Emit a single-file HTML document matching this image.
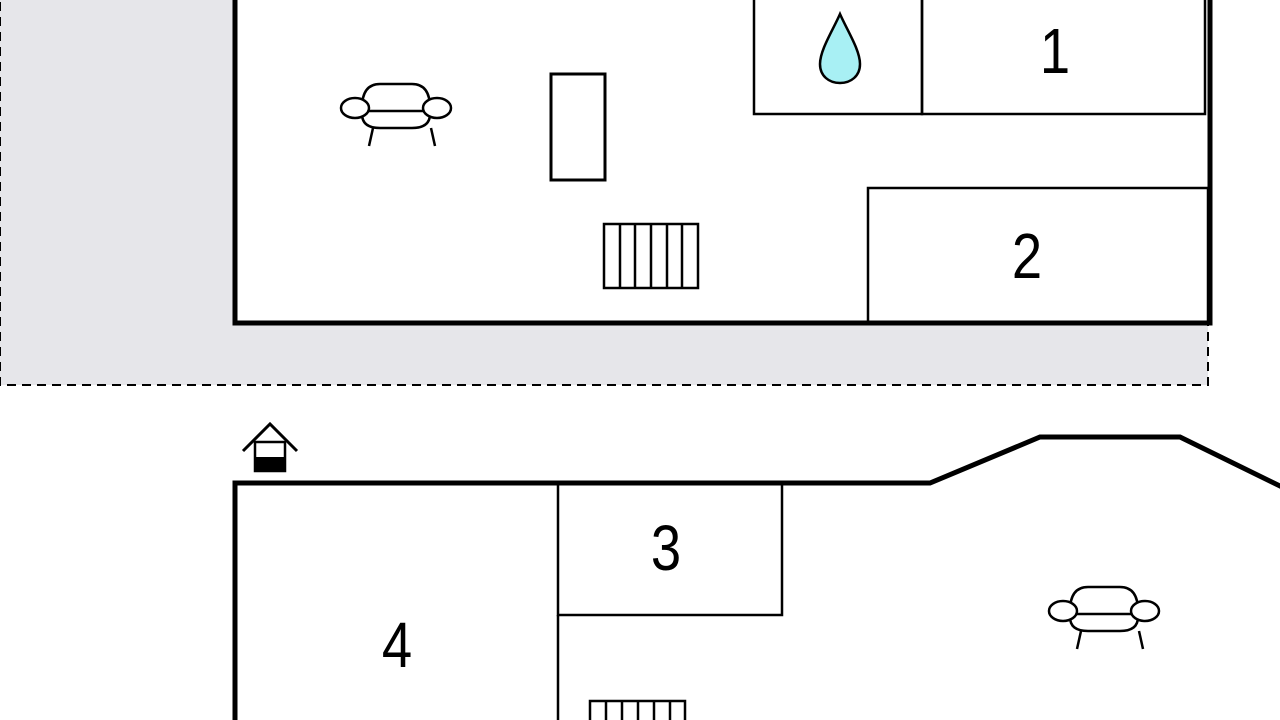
<!DOCTYPE html>
<html><head><meta charset="utf-8"><style>body{margin:0;background:#fff}svg{display:block}text{font-family:"Liberation Sans",sans-serif;font-size:64px;fill:#000;text-anchor:middle}</style></head><body>
<svg width="1280" height="720" viewBox="0 0 1280 720" xmlns="http://www.w3.org/2000/svg">
<defs>
<g id="sofa" fill="none" stroke="#000" stroke-width="2.5">
<path d="M22,24 Q22,0 40,0 H72 Q90,0 90,24"/>
<path d="M22,30 Q22,44 40,44 H72 Q90,44 90,30"/>
<line x1="22" y1="27" x2="90" y2="27"/>
<ellipse cx="15" cy="24" rx="14" ry="10" fill="#fff"/>
<ellipse cx="97" cy="24" rx="14" ry="10" fill="#fff"/>
<line x1="33" y1="44" x2="29" y2="62"/><line x1="91" y1="44" x2="95" y2="62"/>
</g>
</defs>
<rect x="0" y="-5" width="1208" height="390" fill="#e6e6ea" stroke="#000" stroke-width="2" stroke-dasharray="9,6"/>
<rect x="235" y="-10" width="975" height="333" fill="#fff" stroke="#000" stroke-width="5"/>
<rect x="754" y="-10" width="168" height="124" fill="none" stroke="#000" stroke-width="2.5"/>
<rect x="922" y="-10" width="283" height="124" fill="none" stroke="#000" stroke-width="2.5"/>
<rect x="868" y="188" width="340" height="135" fill="none" stroke="#000" stroke-width="2.5"/>
<path d="M840,14 C833,30 820,50 820,64 C820,76 829,83 840,83 C851,83 860,76 860,64 C860,50 847,30 840,14 Z" fill="#a8f0f4" stroke="#000" stroke-width="2.5"/>
<text transform="translate(1055,73) scale(0.85,1)">1</text>
<text transform="translate(1027,278) scale(0.85,1)">2</text>
<use href="#sofa" x="340" y="84"/>
<rect x="551" y="74" width="54" height="106" fill="none" stroke="#000" stroke-width="3"/>
<g fill="none" stroke="#000" stroke-width="2.5"><rect x="604" y="224" width="94" height="64"/>
<line x1="620" y1="224" x2="620" y2="288"/><line x1="635" y1="224" x2="635" y2="288"/><line x1="651" y1="224" x2="651" y2="288"/><line x1="667" y1="224" x2="667" y2="288"/><line x1="682" y1="224" x2="682" y2="288"/></g>
<polyline points="243,451 270,424 297,451" fill="none" stroke="#000" stroke-width="3"/>
<rect x="255" y="442" width="30" height="29" fill="#fff" stroke="#000" stroke-width="2.5"/>
<rect x="255" y="457" width="30" height="14" fill="#000"/>
<polyline points="235,725 235,483 930,483 1040,437 1180,437 1282,487" fill="none" stroke="#000" stroke-width="5"/>
<rect x="558" y="483" width="224" height="132" fill="none" stroke="#000" stroke-width="2.5"/>
<line x1="558" y1="615" x2="558" y2="725" stroke="#000" stroke-width="2.5"/>
<text transform="translate(666,570) scale(0.85,1)">3</text>
<text transform="translate(397,667) scale(0.85,1)">4</text>
<use href="#sofa" x="1048" y="587"/>
<g fill="none" stroke="#000" stroke-width="2.5"><rect x="590" y="701" width="95" height="40"/>
<line x1="606" y1="701" x2="606" y2="720"/><line x1="622" y1="701" x2="622" y2="720"/><line x1="638" y1="701" x2="638" y2="720"/><line x1="654" y1="701" x2="654" y2="720"/><line x1="670" y1="701" x2="670" y2="720"/></g>
</svg>
</body></html>
